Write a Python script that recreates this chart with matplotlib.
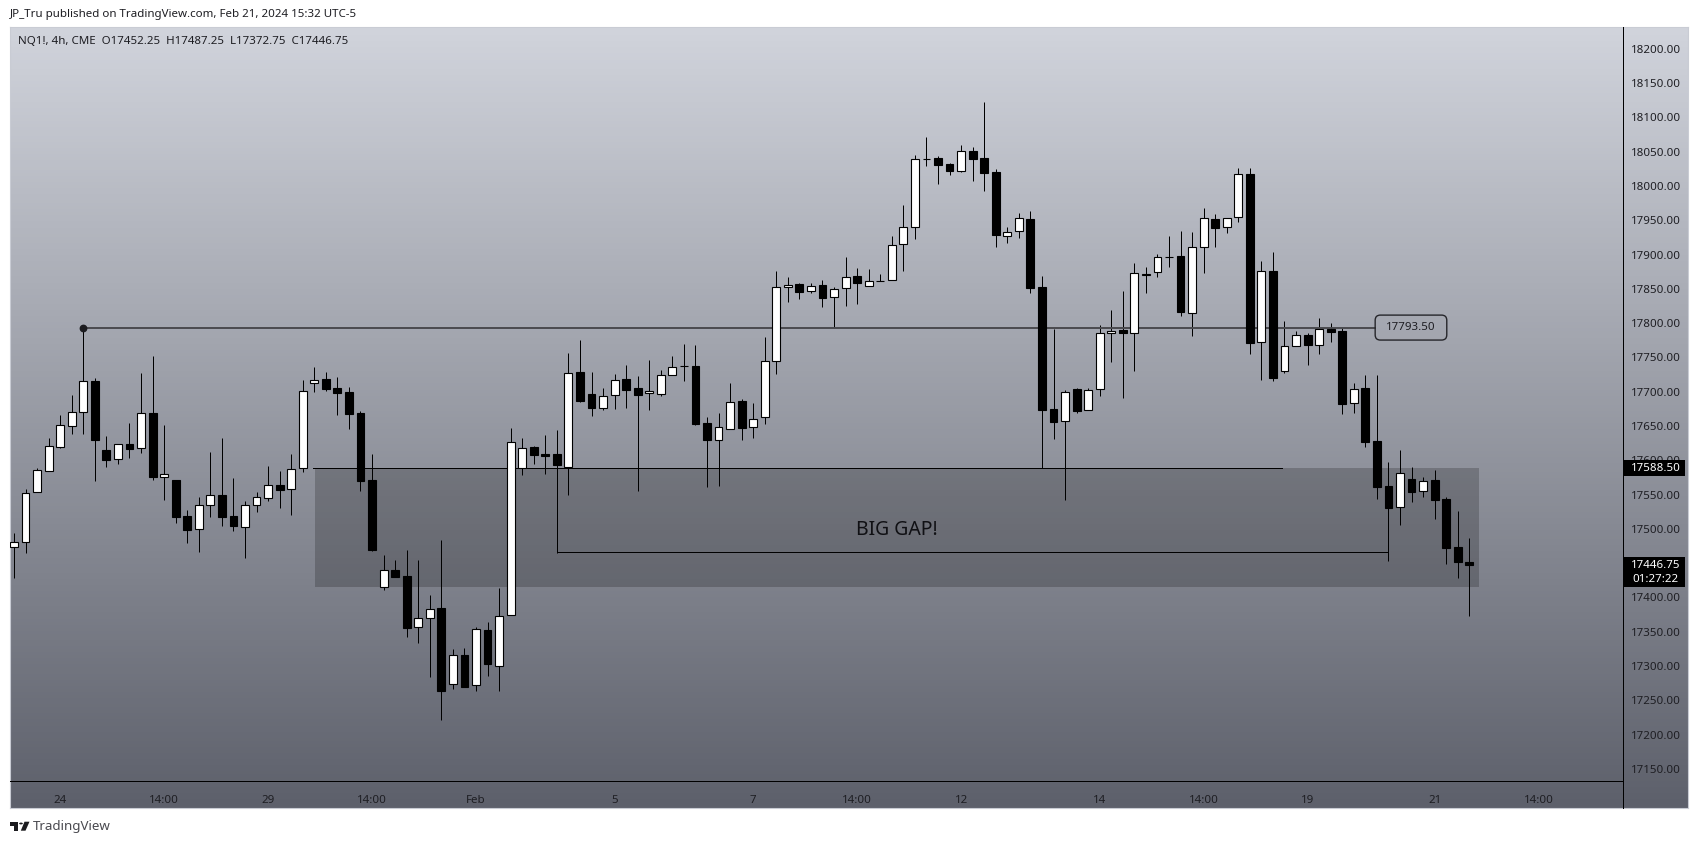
import matplotlib
matplotlib.use("Agg")
import matplotlib.pyplot as plt
import numpy as np
from matplotlib.colors import LinearSegmentedColormap
from matplotlib.lines import Line2D
from matplotlib.patches import FancyBboxPatch, Polygon, Rectangle, Circle

plt.rcParams['font.family'] = ['Noto Sans', 'DejaVu Sans']

opens = [17473,17481.3,17553.2,17584.8,17619.8,17650.4,17670,17715.6,17615,17601.3,17623.7,17617.4,17668.4,17576.1,17570.7,17518.2,17499.3,17534.3,17548.8,17518.2,17502.2,17534.3,17544.5,17563.4,17557.6,17588.2,17712.2,17718,17704.9,17699,17668.4,17570.7,17414.7,17439.4,17430.7,17356.4,17369.5,17384,17273.2,17315.5,17271.8,17352,17299.5,17373.8,17588.2,17619.3,17609,17608.7,17589.7,17728.3,17696.2,17676.8,17694.7,17718.1,17705,17697.6,17697.2,17723.9,17737,17737,17653.9,17630.1,17645.2,17686,17648.1,17662.7,17745.3,17852.2,17856.6,17846.4,17855.2,17837.7,17850.8,17868.3,17853.7,17861,17862.5,17914.9,17939.7,18038.9,18040.4,18032.1,18022.4,18051,18040.4,18020,17927.6,17933.9,17951.4,17852.2,17674.3,17656.8,17703.5,17672.9,17703.5,17785.2,17789.5,17785.2,17869.7,17874.1,17896,17897.4,17815.3,17910.6,17951.4,17939.8,17954.3,18017.5,17772,17875.6,17729.7,17766.2,17782.2,17767.7,17791,17788,17683.1,17705,17627.7,17562,17531.4,17572.2,17554.8,17570.8,17543.1,17473,17452.25]
highs = [17493.4,17557.6,17588.2,17632,17666,17695.2,17793.5,17719.5,17635.4,17623.2,17654.8,17726.8,17752,17651.4,17570.7,17527.5,17545.9,17611.5,17632,17573.6,17540.1,17553.7,17591.1,17584.3,17609.1,17717,17735.5,17728.2,17720.9,17706.3,17671.8,17609.1,17461.8,17454.5,17469.1,17454.5,17403.5,17483.7,17324.7,17325.7,17356.8,17364.1,17413.2,17646.5,17632,17621.3,17636.8,17644.2,17756,17774.9,17728.3,17704.9,17725.4,17738.5,17722.9,17746.3,17731.7,17752.1,17769,17767.7,17662.7,17668.5,17712.2,17688.9,17683.6,17779.3,17875.6,17866.8,17859,17858,17862.4,17852.2,17896,17880,17878.5,17871.7,17926.6,17971.8,18044.7,18071,18043.3,18033,18059.3,18056.4,18122,18025.3,17939.7,17960.2,17963.1,17869.3,17791,17702,17705,17704.9,17796.8,17818.7,17846.9,17887.2,17881.9,17900.4,17926.6,17933.9,17932.4,17967.4,17958.7,17953.8,18026.3,18026.3,17891.1,17903.3,17802.7,17788.1,17785.6,17807,17800.2,17792.5,17712.2,17723.9,17723.9,17598,17614.5,17589.7,17575.2,17585.9,17547,17526,17487.25]
lows = [17428.3,17465.2,17553,17584.8,17618.4,17638.3,17638,17569.7,17590.6,17594.5,17603.8,17611,17571.2,17542,17509,17479.3,17466.2,17517.2,17504.1,17497.3,17457.9,17525,17540.6,17530.4,17520.2,17583.4,17700,17701.5,17666,17645.6,17555.2,17468.1,17410.8,17430,17342.7,17334,17284.4,17221.2,17266.9,17268.8,17264,17285.4,17264,17373.8,17578.5,17594.5,17580,17465.2,17549.4,17685.5,17665.1,17673.4,17674.8,17676.8,17555.7,17673.4,17694.3,17723.9,17715.6,17652,17561.6,17563,17645,17630.1,17632.5,17652.9,17725.9,17830.9,17835.7,17844,17824,17793,17825.5,17828.4,17853.7,17861,17862.5,17876.6,17923.2,18029.7,18003.4,18016.5,18020.9,18007.8,17993.2,17911.5,17917.4,17924.7,17844.5,17588.3,17631.6,17542.6,17669.5,17672.9,17694.3,17743.8,17691.3,17730.7,17844,17867.8,17881.9,17810.9,17781.8,17873.1,17911.5,17932,17947.5,17755.5,17717.6,17715.6,17727.8,17766,17739,17755.5,17772.5,17668,17669.5,17619.9,17544,17453.6,17505.6,17539.2,17547,17514.4,17448.8,17428.8,17372.75]
closes = [17481.3,17551.8,17585.3,17620.3,17650.9,17669.9,17715,17629.5,17600.4,17623.2,17616.4,17668.4,17576.1,17579.5,17517.7,17498.8,17534.3,17548.8,17517.7,17504.6,17534.3,17545.9,17563.4,17557.1,17587.7,17700.5,17717.5,17704.4,17698.6,17668,17569.7,17469.6,17439.4,17430.2,17355.9,17369.5,17382.6,17264,17315.5,17269.8,17353.4,17303.4,17373.4,17627.1,17618.4,17608.1,17606.7,17593.6,17727.8,17686.9,17676.8,17694.3,17717.6,17703,17695.7,17701.6,17723.9,17736.5,17737,17653.4,17630.1,17649,17685.5,17647.6,17660.7,17745.3,17852.2,17856.1,17845.9,17854.7,17837.2,17850.3,17867.8,17859,17861,17861,17913.5,17939.7,18038.9,18038.9,18031.1,18022.4,18050.6,18039.9,18019.5,17929,17933.4,17952.9,17851.8,17673.8,17656.3,17699.1,17672.4,17703,17785.2,17789,17785.2,17873.6,17872.2,17896,17896,17816.8,17910.6,17953.8,17939.3,17953.8,18017,17771.5,17875.6,17720.5,17766.2,17782.2,17768.6,17791,17787.6,17682.6,17704.5,17627.2,17561.6,17530.9,17582,17554.3,17570.3,17542.6,17472.6,17452.2,17446.75]

# 17450.00 is fully covered by the last-price tag in the reference, so it is not listed
price_ticks = [p for p in range(17150, 18201, 50) if p != 17450]
time_pos = [4, 13, 22, 31, 40, 52, 64, 73, 82, 94, 103, 112, 123, 132]
time_labels = ["24", "14:00", "29", "14:00", "Feb", "5", "7", "14:00", "12", "14", "14:00", "19", "21", "14:00"]

resistance = 17793.50
gap_top = 17588.50
gap_bottom = 17415.5
lower_level = 17465.8
last_tag = 17446.75

W, H = 1699, 844
PL, PT, PR, PAX, PB, PE = 10.4, 26.7, 1623, 781, 808, 1688
BAR0, BARW = 14.0, 11.55
INK = '#1e1e23'
fig = plt.figure(figsize=(W / 100, H / 100), dpi=100, facecolor='white')

def fx(x): return x / W
def fy(y): return 1 - y / H

bg = fig.add_axes([fx(PL), fy(PB), fx(PE - PL), (PB - PT) / H], zorder=0)
cmap = LinearSegmentedColormap.from_list('bg', ['#d1d4dc', '#5d606b'])
bg.imshow(np.linspace(0, 1, 256)[:, None], aspect='auto', cmap=cmap, extent=[0, 1, 0, 1])
for s in bg.spines.values():
    s.set_color('#c9ccd4'); s.set_linewidth(0.8)
bg.set_xticks([]); bg.set_yticks([])

ax = fig.add_axes([fx(PL), fy(PAX), fx(PR - PL), (PAX - PT) / H], zorder=1)
ax.patch.set_alpha(0)
ax.set_xlim((PL - BAR0) / BARW, (PR - BAR0) / BARW)
ax.set_ylim(18050 - (PAX - 151.7) / 0.6857, 18050 + (151.7 - PT) / 0.6857)

idx = np.arange(len(opens))
o, h, l, c = map(np.array, (opens, highs, lows, closes))
up = c > o

ax.add_patch(Rectangle((26.05, gap_bottom), 126.85 - 26.05, gap_top - gap_bottom,
                       facecolor='black', alpha=0.2, edgecolor='none', zorder=1))
ax.vlines(idx, l, h, color='black', lw=0.72, zorder=2)
ax.bar(idx[up], (c - o)[up], bottom=o[up], width=0.68, facecolor='white',
       edgecolor='black', linewidth=0.8, zorder=3)
ax.bar(idx[~up], (o - c)[~up], bottom=c[~up], width=0.68, facecolor='black',
       edgecolor='black', linewidth=0.8, zorder=3)

ax.plot([6, 117.85], [resistance, resistance], color='#4a4a4f', lw=1.4, zorder=2.5)
ax.plot([6], [resistance], 'o', color='#1c1c20', ms=4.6, zorder=4)
ax.plot([25.9, 109.8], [gap_top, gap_top], color='black', lw=0.72, zorder=2.5)
ax.plot([47, 47, 119], [gap_top, lower_level, lower_level], color='black', lw=0.72, zorder=2.5)

ax.text(76.4, 17499, "BIG GAP!", fontsize=14, color='#101014', ha='center', va='center', zorder=5)

# rounded price label on the level line
ax.add_patch(FancyBboxPatch((117.85, resistance - 18.2), 6.2, 36.4,
                            boxstyle="round,pad=0,rounding_size=0.45",
                            mutation_aspect=BARW / 0.6857,
                            facecolor='none', edgecolor='#26262b', linewidth=1.0, zorder=5))
ax.text(120.95, resistance, "17793.50", fontsize=8.3, color=INK, ha='center', va='center', zorder=6)

ax.set_yticks(price_ticks)
ax.set_yticklabels([f"{p:.2f}" for p in price_ticks])
ax.yaxis.tick_right()
ax.set_xticks(time_pos)
ax.set_xticklabels(time_labels)
ax.get_xticklabels()[4].set_fontweight('bold')
ax.tick_params(axis='y', length=0, pad=6, labelsize=8.3, labelcolor=INK)
ax.tick_params(axis='x', length=0, pad=10, labelsize=8.3, labelcolor=INK)
for s in ('top', 'left'):
    ax.spines[s].set_visible(False)
for s in ('right', 'bottom'):
    ax.spines[s].set_color('black'); ax.spines[s].set_linewidth(0.72)
fig.add_artist(Line2D([fx(PR), fx(PR)], [fy(PAX), fy(PB)], color='black', lw=0.72, zorder=5))

tr = ax.get_yaxis_transform()
span = (ax.get_ylim()[1] - ax.get_ylim()[0]) / (PAX - PT)
tagw = 61 / (PR - PL)
tagc = 1 + 32.5 / (PR - PL)
ax.add_patch(Rectangle((1.0006, gap_top - 8 * span), tagw, 16 * span, transform=tr,
                       facecolor='black', edgecolor='none', clip_on=False, zorder=10))
ax.text(tagc, gap_top, f"{gap_top:.2f}", transform=tr, color='white',
        fontsize=8.3, fontweight='bold', ha='center', va='center', clip_on=False, zorder=11)
ax.add_patch(Rectangle((1.0006, last_tag - 21.8 * span), tagw, 30 * span, transform=tr,
                       facecolor='black', edgecolor='none', clip_on=False, zorder=10))
ax.text(tagc, last_tag, f"{last_tag:.2f}", transform=tr, color='white',
        fontsize=8.3, fontweight='bold', ha='center', va='center', clip_on=False, zorder=11)
ax.text(tagc, last_tag - 14 * span, "01:27:22", transform=tr, color='white',
        fontsize=8.3, ha='center', va='center', clip_on=False, zorder=11)

fig.text(fx(10), fy(15), "JP_Tru published on TradingView.com, Feb 21, 2024 15:32 UTC-5",
         fontsize=8.3, color=INK, ha='left', va='center')
fig.text(fx(18), fy(41.7), "NQ1!, 4h, CME  O17452.25  H17487.25  L17372.75  C17446.75",
         fontsize=8.27, color=INK, ha='left', va='center', zorder=6)
fig.text(fx(33), fy(826.5), "TradingView", fontsize=9.6, color='#4a4a50', ha='left', va='center')

def poly(pts):
    fig.add_artist(Polygon([(fx(a), fy(b)) for a, b in pts], closed=True, facecolor='#1b1b1f',
                           edgecolor='none', transform=fig.transFigure))
poly([(10, 821.7), (18.5, 821.7), (18.5, 830.7), (14, 830.7), (14, 825.5), (10, 825.5)])
poly([(24.5, 821.7), (29.5, 821.7), (25.5, 830.7), (20.8, 830.7)])
fig.add_artist(Circle((fx(21), fy(823.5)), 0.0011, facecolor='#1b1b1f', edgecolor='none',
                      transform=fig.transFigure))

fig.savefig('out.png', dpi=100)
